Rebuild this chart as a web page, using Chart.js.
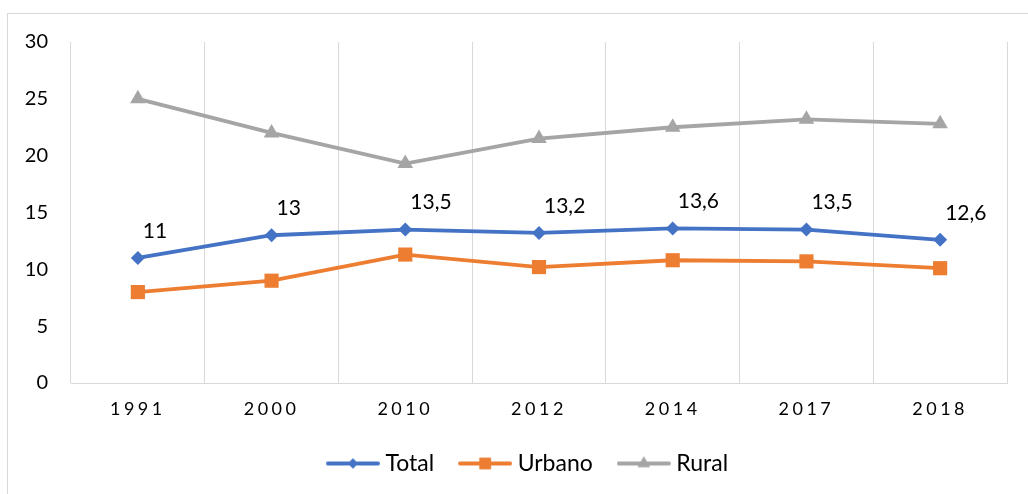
<!DOCTYPE html>
<html>
<head>
<meta charset="utf-8">
<script src="https://cdn.jsdelivr.net/npm/chart.js@4.4.1/dist/chart.umd.min.js"></script>
<style>
  html, body { margin: 0; padding: 0; background: #fff; overflow: hidden; }
  #frame { position: absolute; left: 7px; top: 13px; width: 1100px; height: 600px; border: 1px solid #d9d9d9; }
  #wrap { position: absolute; left: 0; top: 0; width: 1028px; height: 494px; }
</style>
</head>
<body>
<div id="frame"></div>
<div id="wrap"><canvas id="lineChart"></canvas></div>
<script>
const years = ["1991", "2000", "2010", "2012", "2014", "2017", "2018"];
const totalValues = [11, 13, 13.5, 13.2, 13.6, 13.5, 12.6];
const urbanoValues = [8, 9, 11.3, 10.2, 10.8, 10.7, 10.1];
const ruralValues = [25, 22, 19.3, 21.5, 22.5, 23.2, 22.8];
const yTicks = [0, 5, 10, 15, 20, 25, 30];

const FONT = "Lato, 'Open Sans', sans-serif";

// legend icon: line with the marker in the middle, like Excel
function legendIcon(color, style, radius) {
  const c = document.createElement("canvas");
  c.width = 54; c.height = 20;
  const ctx = c.getContext("2d");
  ctx.strokeStyle = color;
  ctx.lineWidth = 4;
  ctx.lineCap = "round";
  ctx.beginPath();
  ctx.moveTo(2, 10); ctx.lineTo(52, 10);
  ctx.stroke();
  ctx.fillStyle = color;
  Chart.helpers.drawPoint(ctx, { pointStyle: style, radius: radius, rotation: 0, borderWidth: 0 }, 27, 10);
  ctx.fill();
  return c;
}

const totalLabels = {
  id: "totalLabels",
  afterDatasetsDraw(chart) {
    const ctx = chart.ctx;
    const meta = chart.getDatasetMeta(0);
    ctx.save();
    ctx.font = "21px " + FONT;
    ctx.fillStyle = "#000";
    ctx.textAlign = "left";
    ctx.textBaseline = "middle";
    meta.data.forEach((pt, i) => {
      const txt = String(totalValues[i]).replace(".", ",");
      ctx.fillText(txt, pt.x + 5, pt.y - 27);
    });
    ctx.restore();
  }
};

// spaced-out year labels on the x axis, legend nudged to the figure centre
const layoutTweaks = {
  id: "layoutTweaks",
  afterLayout(chart) {
    const s = chart.scales.x;
    if (!s._spaced) {
      const orig = s.drawLabels.bind(s);
      s.drawLabels = (area) => {
        chart.ctx.save();
        chart.ctx.letterSpacing = "3.5px";
        orig(area);
        chart.ctx.restore();
      };
      s._spaced = true;
    }
    const lg = chart.legend;
    const shift = 530 - (lg.left + lg.right) / 2;
    lg.left += shift;
    lg.right += shift;
  }
};

const styles = [
  { label: "Total", data: totalValues, color: "#4472C4", style: "rectRot", r: 7 },
  { label: "Urbano", data: urbanoValues, color: "#ED7D31", style: "rect", r: 10 },
  { label: "Rural", data: ruralValues, color: "#A5A5A5", style: "triangle", r: 9 }
];

const ctx = document.getElementById("lineChart").getContext("2d");
new Chart(ctx, {
  type: "line",
  data: {
    labels: years,
    datasets: styles.map(s => ({
      label: s.label,
      data: s.data,
      borderColor: s.color,
      backgroundColor: s.color,
      borderWidth: 3.8,
      pointStyle: s.style,
      pointRadius: s.r,
      pointHoverRadius: s.r,
      pointBorderWidth: 0,
      tension: 0
    }))
  },
  options: {
    responsive: true,
    maintainAspectRatio: false,
    animation: false,
    layout: { padding: { left: 0, top: 42, right: 21, bottom: 9 } },
    scales: {
      x: {
        offset: true,
        grid: { display: true, offset: true, color: "#d9d9d9", lineWidth: 1, drawTicks: false },
        border: { display: true, color: "#d9d9d9", width: 1 },
        ticks: { color: "#000", font: { family: FONT, size: 18 }, padding: 15 },
        afterFit: s => { s.height = 39; }
      },
      y: {
        min: 0,
        max: 30,
        afterBuildTicks: s => { s.ticks = yTicks.map(v => ({ value: v })); },
        grid: { display: false },
        border: { display: false },
        ticks: { color: "#000", font: { family: FONT, size: 20 }, padding: 15 },
        afterFit: s => { s.width = 71; }
      }
    },
    plugins: {
      legend: {
        position: "bottom",
        labels: {
          usePointStyle: true,
          pointStyleWidth: 42,
          padding: 30,
          color: "#000",
          font: { family: FONT, size: 23 },
          generateLabels: chart => chart.data.datasets.map((d, i) => ({
            text: d.label,
            pointStyle: legendIcon(styles[i].color, styles[i].style, styles[i].r - 2),
            fillStyle: d.borderColor,
            strokeStyle: d.borderColor,
            lineWidth: 0,
            datasetIndex: i
          }))
        }
      },
      tooltip: { enabled: false }
    }
  },
  plugins: [totalLabels, layoutTweaks]
});
</script>
</body>
</html>
